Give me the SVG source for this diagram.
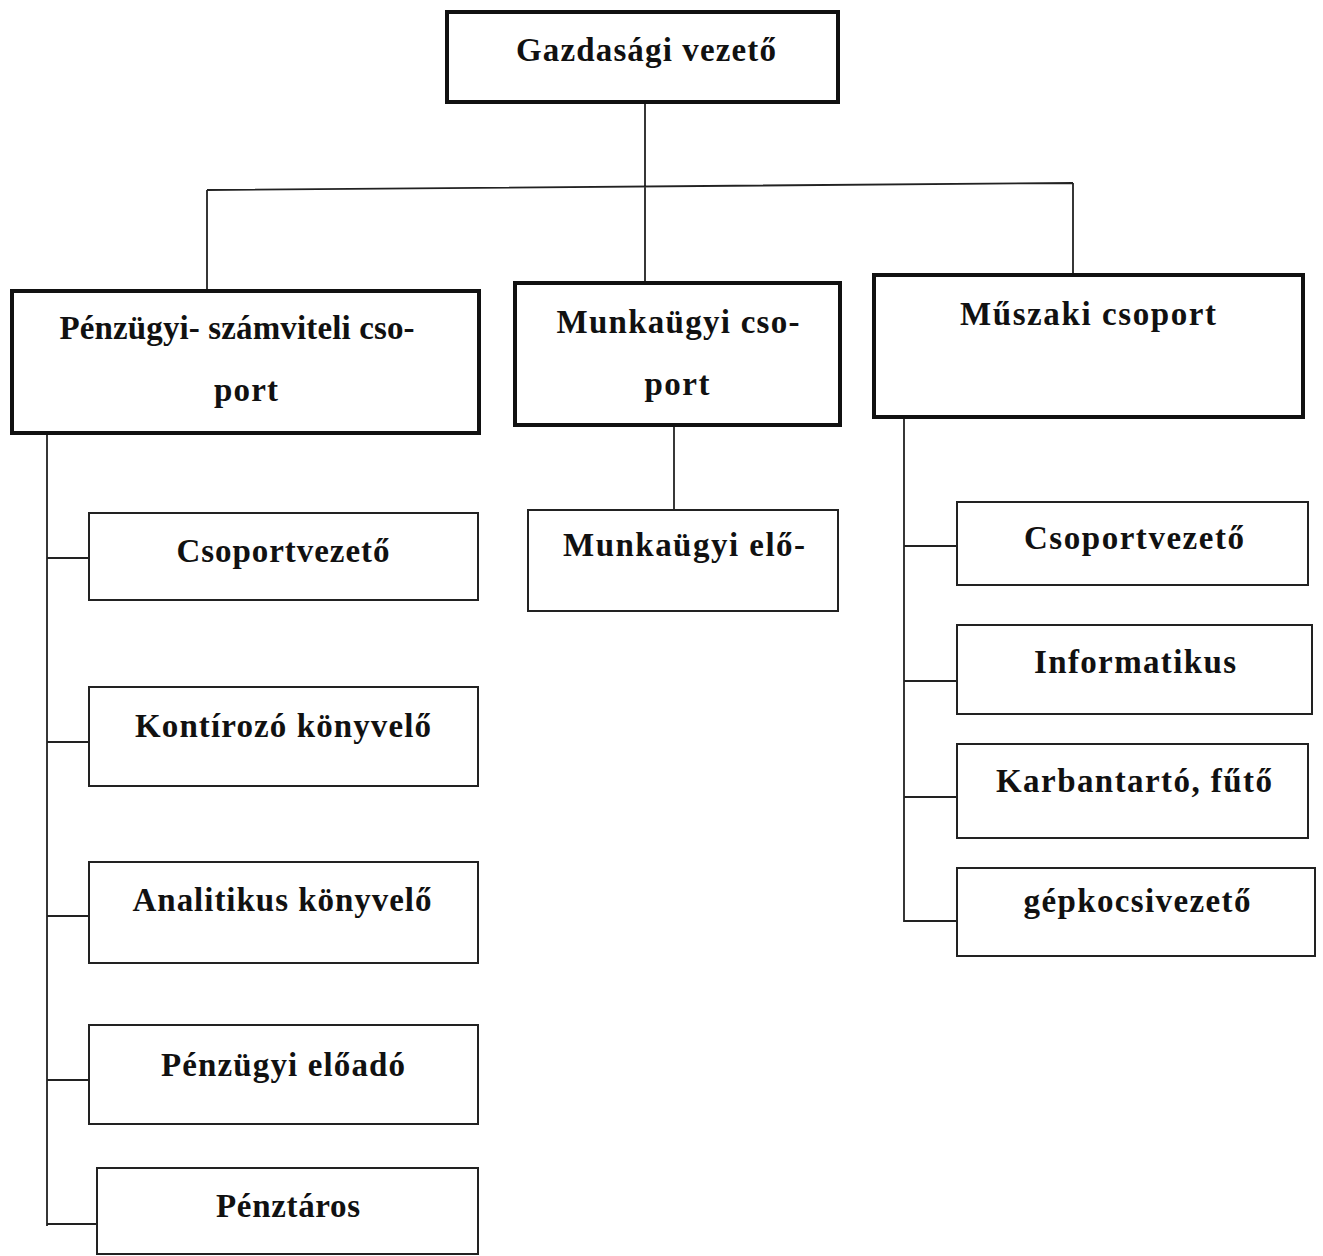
<svg xmlns="http://www.w3.org/2000/svg" width="1323" height="1256" viewBox="0 0 1323 1256">
<style>
.thick{fill:#fff;stroke:#111;stroke-width:4}
.thin{fill:#fff;stroke:#222;stroke-width:2}
.lbl{font-family:"Liberation Serif",serif;font-weight:bold;font-size:33px;fill:#111;text-anchor:middle}
.con{fill:none;stroke:#222;stroke-width:1.8}
</style>
<rect width="1323" height="1256" fill="#fff"/>
<g id="connectors">
<path class="con" d="M645,102 V186 M207,190 L1073,183 M207,190 V291 M645,186 V283 M1073,183 V275"/>
<path class="con" d="M674,425 V510"/>
<path class="con" d="M47,433 V1226 M47,558 H89 M47,742 H89 M47,916 H89 M47,1080 H89 M47,1224 H97"/>
<path class="con" d="M904,417 V922 M904,546 H957 M904,681 H957 M904,797 H957 M904,921 H957"/>
</g>
<g id="n-gazdasagi"><rect class="thick" x="447" y="12" width="391" height="90"/><text class="lbl" x="646" y="61" textLength="260" lengthAdjust="spacing">Gazdasági vezető</text></g>
<g id="n-penzugyi"><rect class="thick" x="12" y="291" width="467" height="142"/><text class="lbl" x="237" y="339" textLength="355" lengthAdjust="spacing">Pénzügyi- számviteli cso-</text><text class="lbl" x="246" y="401" textLength="64" lengthAdjust="spacing">port</text></g>
<g id="n-munkaugyi"><rect class="thick" x="515" y="283" width="325" height="142"/><text class="lbl" x="678" y="333" textLength="243" lengthAdjust="spacing">Munkaügyi cso-</text><text class="lbl" x="677" y="395" textLength="65" lengthAdjust="spacing">port</text></g>
<g id="n-muszaki"><rect class="thick" x="874" y="275" width="429" height="142"/><text class="lbl" x="1088" y="325" textLength="256" lengthAdjust="spacing">Műszaki csoport</text></g>
<g id="n-munk-elo"><rect class="thin" x="528" y="510" width="310" height="101"/><text class="lbl" x="684" y="556" textLength="242" lengthAdjust="spacing">Munkaügyi elő-</text></g>
<g id="n-l1"><rect class="thin" x="89" y="513" width="389" height="87"/><text class="lbl" x="283" y="562" textLength="213" lengthAdjust="spacing">Csoportvezető</text></g>
<g id="n-l2"><rect class="thin" x="89" y="687" width="389" height="99"/><text class="lbl" x="283" y="737" textLength="296" lengthAdjust="spacing">Kontírozó könyvelő</text></g>
<g id="n-l3"><rect class="thin" x="89" y="862" width="389" height="101"/><text class="lbl" x="282" y="911" textLength="299" lengthAdjust="spacing">Analitikus könyvelő</text></g>
<g id="n-l4"><rect class="thin" x="89" y="1025" width="389" height="99"/><text class="lbl" x="283" y="1076" textLength="244" lengthAdjust="spacing">Pénzügyi előadó</text></g>
<g id="n-l5"><rect class="thin" x="97" y="1168" width="381" height="86"/><text class="lbl" x="288" y="1217" textLength="144" lengthAdjust="spacing">Pénztáros</text></g>
<g id="n-r1"><rect class="thin" x="957" y="502" width="351" height="83"/><text class="lbl" x="1134" y="549" textLength="220" lengthAdjust="spacing">Csoportvezető</text></g>
<g id="n-r2"><rect class="thin" x="957" y="625" width="355" height="89"/><text class="lbl" x="1135" y="673" textLength="202" lengthAdjust="spacing">Informatikus</text></g>
<g id="n-r3"><rect class="thin" x="957" y="744" width="351" height="94"/><text class="lbl" x="1134" y="792" textLength="276" lengthAdjust="spacing">Karbantartó, fűtő</text></g>
<g id="n-r4"><rect class="thin" x="957" y="868" width="358" height="88"/><text class="lbl" x="1137" y="912" textLength="227" lengthAdjust="spacing">gépkocsivezető</text></g>
</svg>
